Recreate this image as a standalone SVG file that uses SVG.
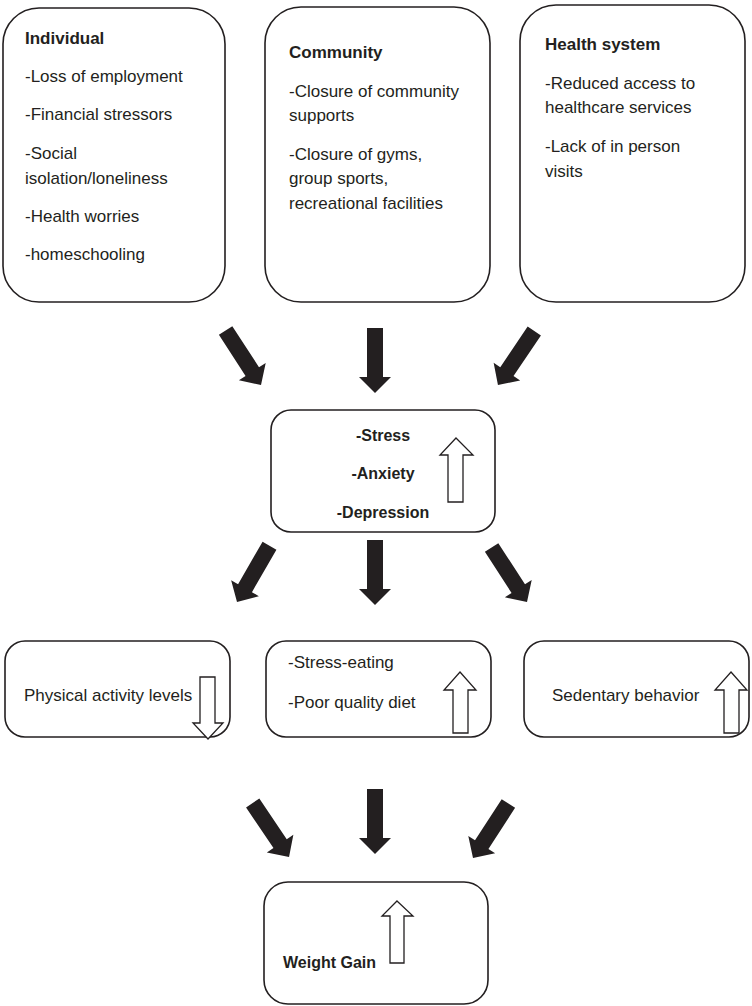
<svg xmlns="http://www.w3.org/2000/svg" xmlns:xlink="http://www.w3.org/1999/xlink" width="752" height="1006" viewBox="0 0 752 1006">
<style>
  .box { fill: #ffffff; stroke: #231f20; stroke-width: 1.6; }
  .t { font-family: "Liberation Sans", Arial, sans-serif; font-size: 17px; fill: #231f20; }
  .b { font-weight: bold; }
  .s16 { font-size: 16px; }
  .mid { text-anchor: middle; }
  .fat { fill: #231f20; }
  .hollow { fill: #ffffff; stroke: #231f20; stroke-width: 1.3; stroke-linejoin: miter; }
</style>
<defs>
  <polygon id="fat" points="-8,0 8,0 8,49 16,49 0,65 -16,49 -8,49"/>
</defs>
<rect width="752" height="1006" fill="#ffffff"/>

<g id="individual">
  <rect class="box" x="3" y="8" width="222" height="294" rx="36" ry="36"/>
  <text class="t b" x="25" y="44">Individual</text>
  <text class="t" x="25" y="82">-Loss of employment</text>
  <text class="t" x="25" y="120">-Financial stressors</text>
  <text class="t" x="25" y="159">-Social</text>
  <text class="t" x="25" y="184">isolation/loneliness</text>
  <text class="t" x="25" y="222">-Health worries</text>
  <text class="t" x="25" y="260">-homeschooling</text>
</g>

<g id="community">
  <rect class="box" x="265" y="7" width="225" height="295" rx="36" ry="36"/>
  <text class="t b" x="289" y="58">Community</text>
  <text class="t" x="289" y="97">-Closure of community</text>
  <text class="t" x="289" y="121">supports</text>
  <text class="t" x="289" y="160">-Closure of gyms,</text>
  <text class="t" x="289" y="184">group sports,</text>
  <text class="t" x="289" y="209">recreational facilities</text>
</g>

<g id="health-system">
  <rect class="box" x="520" y="5" width="225" height="297" rx="36" ry="36"/>
  <text class="t b" x="545" y="50">Health system</text>
  <text class="t" x="545" y="89">-Reduced access to</text>
  <text class="t" x="545" y="113">healthcare services</text>
  <text class="t" x="545" y="152">-Lack of in person</text>
  <text class="t" x="545" y="177">visits</text>
</g>

<g id="mental-health">
  <rect class="box" x="271" y="410" width="224" height="122" rx="20" ry="20"/>
  <text class="t b s16 mid" x="383" y="441">-Stress</text>
  <text class="t b s16 mid" x="383" y="479">-Anxiety</text>
  <text class="t b s16 mid" x="383" y="518">-Depression</text>
  <polygon class="hollow" points="456,438 473,455 463,455 463,502 448,502 448,455 440,455"/>
</g>

<g id="physical-activity">
  <rect class="box" x="5" y="641" width="225" height="96" rx="20" ry="20"/>
  <text class="t" x="24" y="701">Physical activity levels</text>
  <polygon class="hollow" points="200,677 215,677 215,723 223,723 208,739 193,723 200,723"/>
</g>

<g id="diet">
  <rect class="box" x="266" y="641" width="225" height="96" rx="20" ry="20"/>
  <text class="t" x="288" y="668">-Stress-eating</text>
  <text class="t" x="288" y="708">-Poor quality diet</text>
  <polygon class="hollow" points="460,672 476,690 468,690 468,733 453,733 453,690 444,690"/>
</g>

<g id="sedentary">
  <rect class="box" x="524" y="641" width="225" height="96" rx="20" ry="20"/>
  <text class="t" x="552" y="701">Sedentary behavior</text>
  <polygon class="hollow" points="731,672 747,690 739,690 739,733 724,733 724,690 715,690"/>
</g>

<g id="weight-gain">
  <rect class="box" x="264" y="882" width="224" height="122" rx="24" ry="24"/>
  <text class="t b s16" x="283" y="968">Weight Gain</text>
  <polygon class="hollow" points="397,901 413,916 404,916 404,963 390,963 390,916 382,916"/>
</g>

<g id="connectors">
  <use xlink:href="#fat" class="fat" transform="translate(225.6,330.5) rotate(-33)"/>
  <use xlink:href="#fat" class="fat" transform="translate(375,328)"/>
  <use xlink:href="#fat" class="fat" transform="translate(534.3,331) rotate(34)"/>
  <use xlink:href="#fat" class="fat" transform="translate(269.5,545.7) rotate(30)"/>
  <use xlink:href="#fat" class="fat" transform="translate(375,540)"/>
  <use xlink:href="#fat" class="fat" transform="translate(491.6,547.5) rotate(-33)"/>
  <use xlink:href="#fat" class="fat" transform="translate(252.7,803) rotate(-34)"/>
  <use xlink:href="#fat" class="fat" transform="translate(375,789)"/>
  <use xlink:href="#fat" class="fat" transform="translate(508.4,803.5) rotate(33)"/>
</g>
</svg>
